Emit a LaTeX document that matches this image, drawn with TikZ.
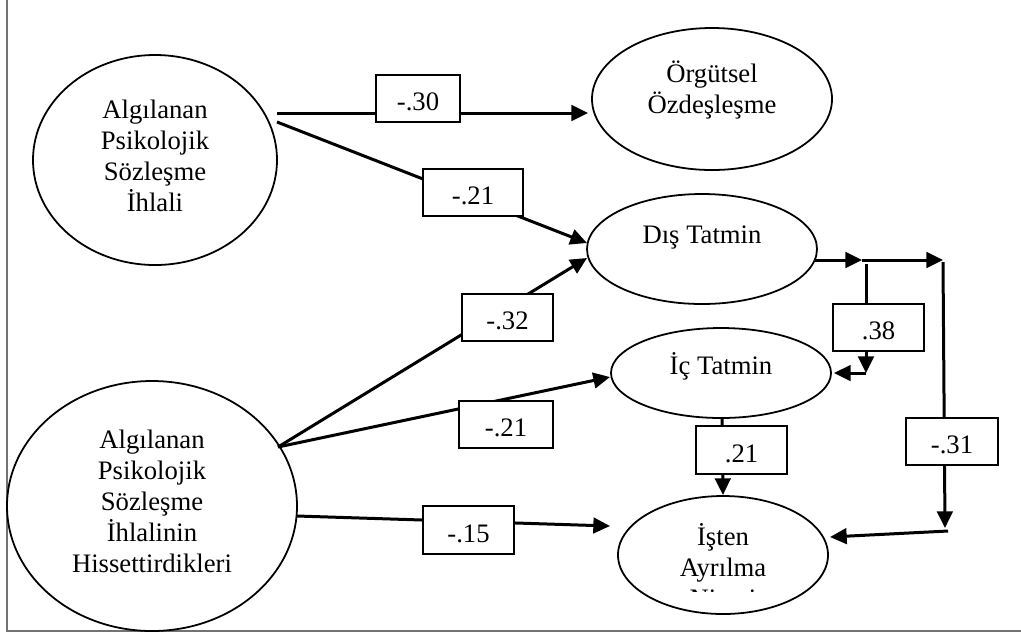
\documentclass[tikz,border=0pt]{standalone}
\usepackage{fontspec}
\setmainfont{Liberation Serif}
\usetikzlibrary{arrows.meta,shapes.geometric}
\tikzset{
	oval/.style 2 args={draw,ellipse,line width=0.8pt,inner sep=0pt,minimum width=#1*0.9pt,minimum height=#2*0.9pt},
	yazi/.style={align=center,inner sep=0pt},
	coef/.style={draw,fill=white,line width=0.9pt,inner sep=0pt,minimum width=#1*0.45pt,minimum height=21.2pt,text height=11pt,text depth=0pt},
	link/.style={->,line width=1.35pt},
	frame/.style={draw=black!55,line width=0.9pt}
}
\begin{document}
\begin{tikzpicture}[x=0.45pt,y=-0.45pt,>={Triangle[length=7.5pt,width=7pt]},font=\fontsize{12}{13.95}\selectfont]
	\useasboundingbox (0,0) rectangle (1021,632);
	\draw[frame] (6.5,0) -- (6.5,630.5) -- (1021,630.5); %cerceve
	
	\node[oval={122}{105}] (ihlal) at (155,160) {};
	\node[oval={145}{125}] (hisset) at (152,506) {};
	\node[oval={120}{71}] (orgut) at (712,99) {};
	\node[oval={115}{55}] (dis) at (702,249) {};
	\node[oval={110}{45}] (ic) at (721,373) {};
	\node[oval={105}{59}] (niyet) at (723,555) {};
	
	\node[yazi] (ihlalT) at (155,156) {Algılanan\\Psikolojik\\Sözleşme\\İhlali};
	\node[yazi] (hissetT) at (152,501) {Algılanan\\Psikolojik\\Sözleşme\\İhlalinin\\Hissettirdikleri};
	\node[yazi] (orgutT) at (712,90) {Örgütsel\\Özdeşleşme};
	\node[yazi] (disT) at (702,237) {Dış Tatmin};
	\node[yazi] (icT) at (721,366) {İç Tatmin};
	\begin{scope}
		\clip (600,480) rectangle (850,591);
		\node[yazi] (niyetT) at (723,568) {İşten\\Ayrılma\\Niyeti};
	\end{scope}
	
	\coordinate (a1) at (277,113); \coordinate (a2) at (277,122);
	\coordinate (h1) at (278,447); \coordinate (h2) at (297,516);
	\coordinate (t1) at (588,113); \coordinate (t2) at (587,243);
	\coordinate (t3) at (587,258); \coordinate (t4) at (610,377);
	\coordinate (t5) at (610,526);
	\coordinate (d0) at (815,260); \coordinate (d1) at (862,260); \coordinate (d2) at (943,260);
	\coordinate (k1) at (866,264); \coordinate (k2) at (866,373); \coordinate (k3) at (834,373);
	\coordinate (r1) at (943,262); \coordinate (r2) at (945,528);
	\coordinate (r3) at (948,531); \coordinate (r4) at (830,537);
	\coordinate (c1) at (722,418); \coordinate (c2) at (723,495);
	
	\draw[link] (a1) -- (t1); %orgut
	\draw[link] (a2) -- (t2); %dis
	\draw[link] (h1) -- (t3); %dis
	\draw[link] (h1) -- (t4); %ic
	\draw[link] (h2) -- (t5); %niyet
	\draw[link] (d0) -- (d1);
	\draw[link] (d1) -- (d2);
	\draw[link] (k1) -- (k2);
	\draw[link] (k2) -- (k3);
	\draw[link] (r1) -- (r2);
	\draw[link] (r3) -- (r4);
	\draw[link] (c1) -- (c2);
	
	\foreach \nm/\x/\y/\w/\t in {30/418/98.5/84/-.30, 21a/473/192.5/100/-.21, 32/507.5/317.5/91/-.32, 21b/506/424.5/94/-.21, 15/468.5/530/91/-.15, 38/878.5/327.5/91/.38, 21c/741.5/450/91/.21, 31/952/441.5/92/-.31}
	{\node[coef=\w] (b\nm) at (\x,\y) {\t};}
	
\end{tikzpicture}
\end{document}
